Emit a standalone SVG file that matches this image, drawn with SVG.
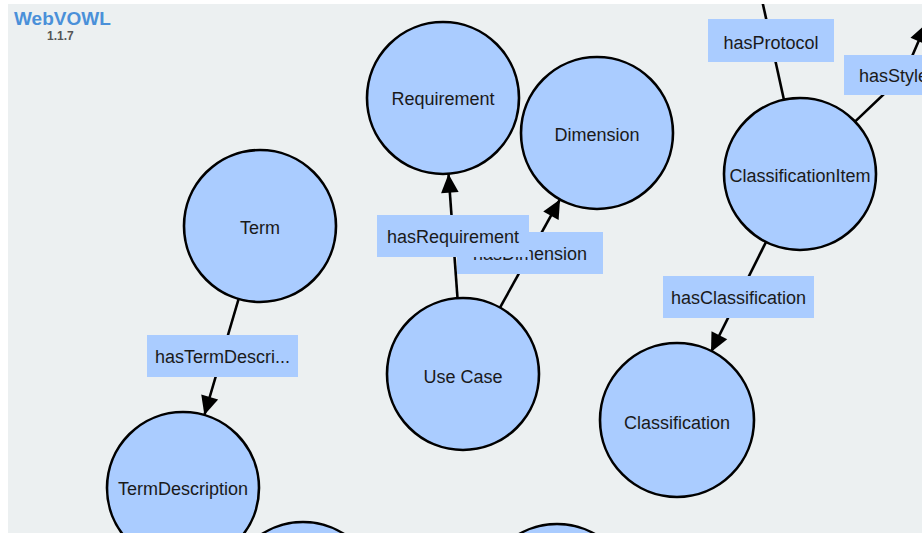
<svg xmlns="http://www.w3.org/2000/svg" width="922" height="533" viewBox="0 0 922 533">
<defs>
<style>
.bg{fill:#ecf0f1}
.node circle{fill:#aaccff;stroke:#000;stroke-width:2.6}
.node text,.prop text{font-family:"Liberation Sans",Arial,sans-serif;font-size:18px;fill:#1a1a1a;text-anchor:middle}
.prop rect{fill:#aaccff}
.links path{fill:none;stroke:#000;stroke-width:2.6}
</style>
<marker id="arr" markerUnits="userSpaceOnUse" markerWidth="22" markerHeight="22" viewBox="-18 -9 20 18" refX="0" refY="0" orient="auto">
<path d="M-17,-8 L0,0 L-17,8 z" fill="#000"/>
</marker>
<clipPath id="view"><rect x="8" y="4" width="914" height="529"/></clipPath>
</defs>
<rect x="0" y="0" width="922" height="533" fill="#ffffff"/>
<rect class="bg" x="8" y="4" width="914" height="529"/>
<g clip-path="url(#view)">
<g id="connectors" class="links">
<path d="M238.6,299 L204.4,415" marker-end="url(#arr)"/>
<path d="M457.5,298 L448.5,174" marker-end="url(#arr)"/>
<path d="M500,307.6 L560,199.4" marker-end="url(#arr)"/>
<path d="M766,242 L711,352" marker-end="url(#arr)"/>
<path d="M784,100 L762,0"/>
<path d="M855,121.6 L904,75 L926,24" marker-end="url(#arr)"/>
</g>
<g id="label-hasTermDescription" class="prop">
<rect x="147" y="335" width="151" height="42"/>
<text x="222.5" y="362.5">hasTermDescri...</text>
</g>
<g id="label-hasDimension" class="prop">
<rect x="457" y="232" width="146" height="42"/>
<text x="530" y="259.5">hasDimension</text>
</g>
<g id="label-hasRequirement" class="prop">
<rect x="377" y="215" width="152" height="42"/>
<text x="453" y="242.5">hasRequirement</text>
</g>
<g id="label-hasClassification" class="prop">
<rect x="663" y="276" width="151" height="42"/>
<text x="738.5" y="304">hasClassification</text>
</g>
<g id="label-hasProtocol" class="prop">
<rect x="708" y="19" width="126" height="43"/>
<text x="771" y="48.5">hasProtocol</text>
</g>
<g id="label-hasStyle" class="prop">
<rect x="844" y="55" width="120" height="40"/>
<text x="859" y="81.5" style="text-anchor:start">hasStyle</text>
</g>
<g id="node-requirement" class="node">
<circle cx="443" cy="98" r="76"/>
<text x="443" y="104.5">Requirement</text>
</g>
<g id="node-dimension" class="node">
<circle cx="597" cy="133" r="76"/>
<text x="597" y="140.5">Dimension</text>
</g>
<g id="node-term" class="node">
<circle cx="260" cy="226" r="76"/>
<text x="260" y="233.5">Term</text>
</g>
<g id="node-termdescription" class="node">
<circle cx="183" cy="488" r="76"/>
<text x="183" y="494.5">TermDescription</text>
</g>
<g id="node-usecase" class="node">
<circle cx="463" cy="374" r="76"/>
<text x="463" y="382.5">Use Case</text>
</g>
<g id="node-classificationitem" class="node">
<circle cx="800" cy="174" r="76"/>
<text x="800" y="181.5">ClassificationItem</text>
</g>
<g id="node-classification" class="node">
<circle cx="677" cy="420" r="77"/>
<text x="677" y="428.5">Classification</text>
</g>
<g id="node-bottom-1" class="node">
<circle cx="303" cy="598" r="76"/>
</g>
<g id="node-bottom-2" class="node">
<circle cx="557" cy="600" r="76"/>
</g>
</g>
<g id="logo" font-family="'Liberation Sans',Arial,sans-serif" font-weight="bold">
<text x="14" y="25" font-size="19" fill="#4a90d9">WebVOWL</text>
<text x="47" y="40" font-size="12" fill="#555">1.1.7</text>
</g>
</svg>
